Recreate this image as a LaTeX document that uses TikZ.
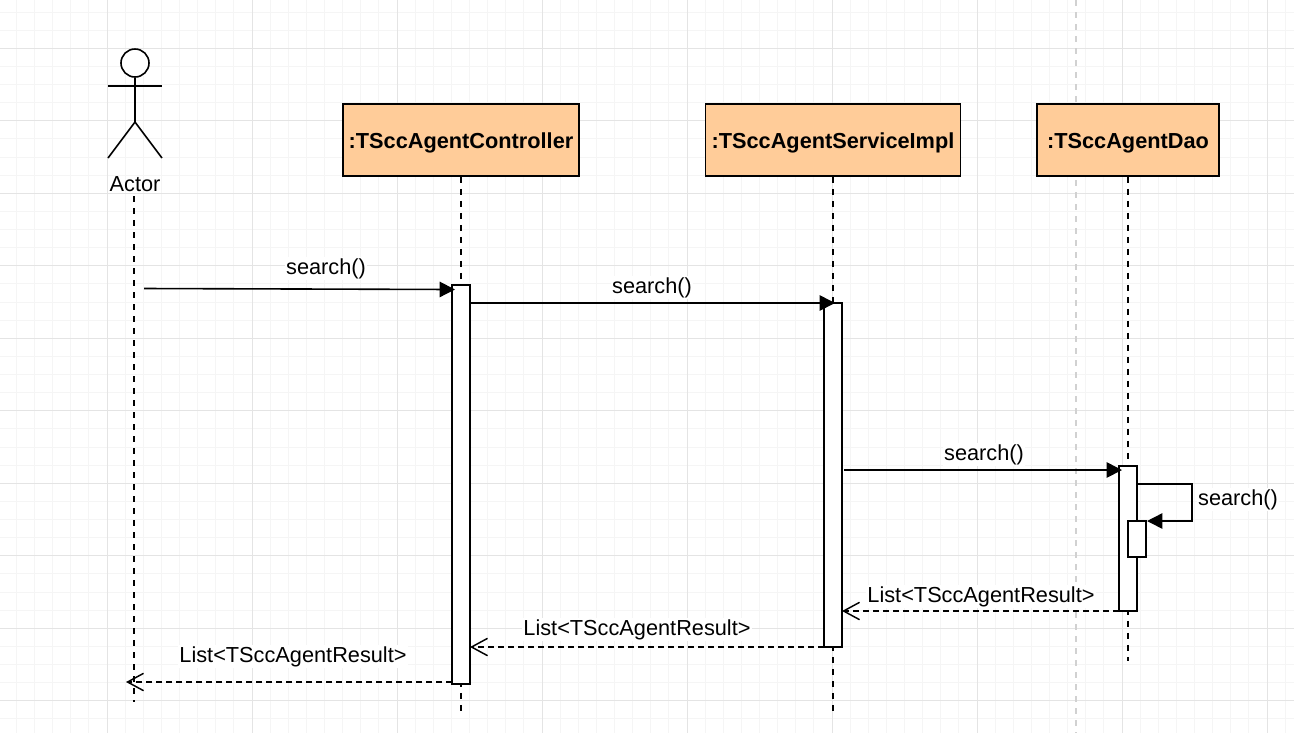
\documentclass[tikz,border=0pt]{standalone}
\usepackage{fontspec}
\setmainfont{Liberation Sans}
\usetikzlibrary{arrows.meta}
\definecolor{gridmajor}{HTML}{E4E4E4}
\definecolor{gridminor}{HTML}{F5F5F5}
\definecolor{boxfill}{HTML}{FFCC99}
\tikzset{
  ln/.style={line width=1.2pt,black},
  objbox/.style={draw=black,line width=1.2pt,fill=boxfill,inner sep=0pt,
    font=\fontsize{16.3}{19}\selectfont\bfseries,text height=14pt,text depth=2pt},
  bar/.style={draw=black,line width=1.2pt,fill=white,inner sep=0pt},
  lifeline/.style={line width=1.25pt,black,dash pattern=on 4.5pt off 4.5pt},
  msg/.style={ln,-{Triangle[length=11.5pt,width=11.5pt]}},
  ret/.style={line width=1.2pt,black,dash pattern=on 4.5pt off 3pt,
    -{Straight Barb[length=12pt,width=13pt,line width=1.1pt]}},
  lab/.style={fill=white,inner sep=0.8pt,font=\fontsize{16.3}{19}\selectfont},
}
\begin{document}
\begin{tikzpicture}[x=0.75pt,y=-0.75pt]
\useasboundingbox (0,0) rectangle (1294,733);
\fill[white] (0,0) rectangle (1294,733);
% grid
\foreach \k in {-5,...,65} \draw[gridminor,line width=0.75pt] ({107+18.125*\k},0) -- ({107+18.125*\k},733);
\foreach \k in {-2,...,37} \draw[gridminor,line width=0.75pt] (0,{48.3+18.125*\k}) -- (1294,{48.3+18.125*\k});
\foreach \k in {0,...,8} \draw[gridmajor,line width=0.75pt] ({107+145*\k},0) -- ({107+145*\k},733);
\foreach \k in {0,...,9} \draw[gridmajor,line width=0.75pt] (0,{48.3+72.5*\k}) -- (1294,{48.3+72.5*\k});
\draw[black!18,line width=1.2pt,dash pattern=on 4.5pt off 4.5pt] (1076,0) -- (1076,733);
% actor
\node[draw=black,line width=1.2pt,circle,minimum size=21pt,inner sep=0pt,fill=white] (head) at (135,63) {};
\coordinate (neck) at (135,122);
\coordinate (armL) at (108,86);
\coordinate (armR) at (162,86);
\coordinate (legL) at (108,158);
\coordinate (legR) at (162,158);
\draw[ln] (head.south) -- (neck);
\draw[ln] (armL) -- (armR);
\draw[ln] (legL) -- (neck) -- (legR);
\node[font=\fontsize{16.3}{19}\selectfont,inner sep=0pt] (actor) at (135,184) {Actor};
% objects
\node[objbox,minimum width=177pt,minimum height=54pt] (ctl) at (461,140) {:TSccAgentController};
\node[objbox,minimum width=191pt,minimum height=54pt] (svc) at (833,140) {:TSccAgentServiceImpl};
\node[objbox,minimum width=136.5pt,minimum height=54pt] (dao) at (1128,140) {:TSccAgentDao};
% lifeline ends
\coordinate (actS) at (134,196);
\coordinate (actE) at (134,702);
\coordinate (ctlE) at (461,715);
\coordinate (svcE) at (833,715);
\coordinate (daoE) at (1128,661);
\draw[lifeline] (actS) -- (actE);
\draw[lifeline] (ctl.south) -- (ctlE);
\draw[lifeline] (svc.south) -- (svcE);
\draw[lifeline] (dao.south) -- (daoE);
% activation bars
\node[bar,minimum width=13.5pt,minimum height=299.25pt] (a) at (461,484.5) {};
\node[bar,minimum width=13.5pt,minimum height=258pt] (b) at (833,475) {};
\node[bar,minimum width=13.5pt,minimum height=108.75pt] (c) at (1128,538.5) {};
\node[bar,minimum width=13.5pt,minimum height=27pt] (d) at (1137,539) {};
% messages
\coordinate (m1s) at (144,288.5);
\coordinate (m1e) at (455,289.5);
\coordinate (m2s) at (470,303);
\coordinate (m2e) at (835,303);
\coordinate (m3s) at (844,470);
\coordinate (m3e) at (1122,470);
\coordinate (s1) at (1137,484);
\coordinate (s2) at (1192,484);
\coordinate (s3) at (1192,521);
\coordinate (s4) at (1147,521);
\coordinate (r1s) at (1119,611);
\coordinate (r1e) at (842,611);
\coordinate (r2s) at (824,647);
\coordinate (r2e) at (470,647);
\coordinate (r3s) at (452,682);
\coordinate (r3e) at (126,682);
\draw[msg] (m1s) -- (m1e);
\draw[msg] (m2s) -- (m2e);
\draw[msg] (m3s) -- (m3e);
\draw[msg] (s1) -- (s2) -- (s3) -- (s4);
\draw[ret] (r1s) -- (r1e);
\draw[ret] (r2s) -- (r2e);
\draw[ret] (r3s) -- (r3e);
% labels
\node[lab] (l1) at (326,268.5) {search()};
\node[lab] (l2) at (652,287.5) {search()};
\node[lab] (l3) at (984,454.5) {search()};
\node[lab] (l4) at (1238,499.5) {search()};
\node[lab] (l5) at (981,596.5) {List<TSccAgentResult>};
\node[lab] (l6) at (637,629.5) {List<TSccAgentResult>};
\node[lab] (l7) at (293,656.5) {List<TSccAgentResult>};
\end{tikzpicture}
\end{document}
